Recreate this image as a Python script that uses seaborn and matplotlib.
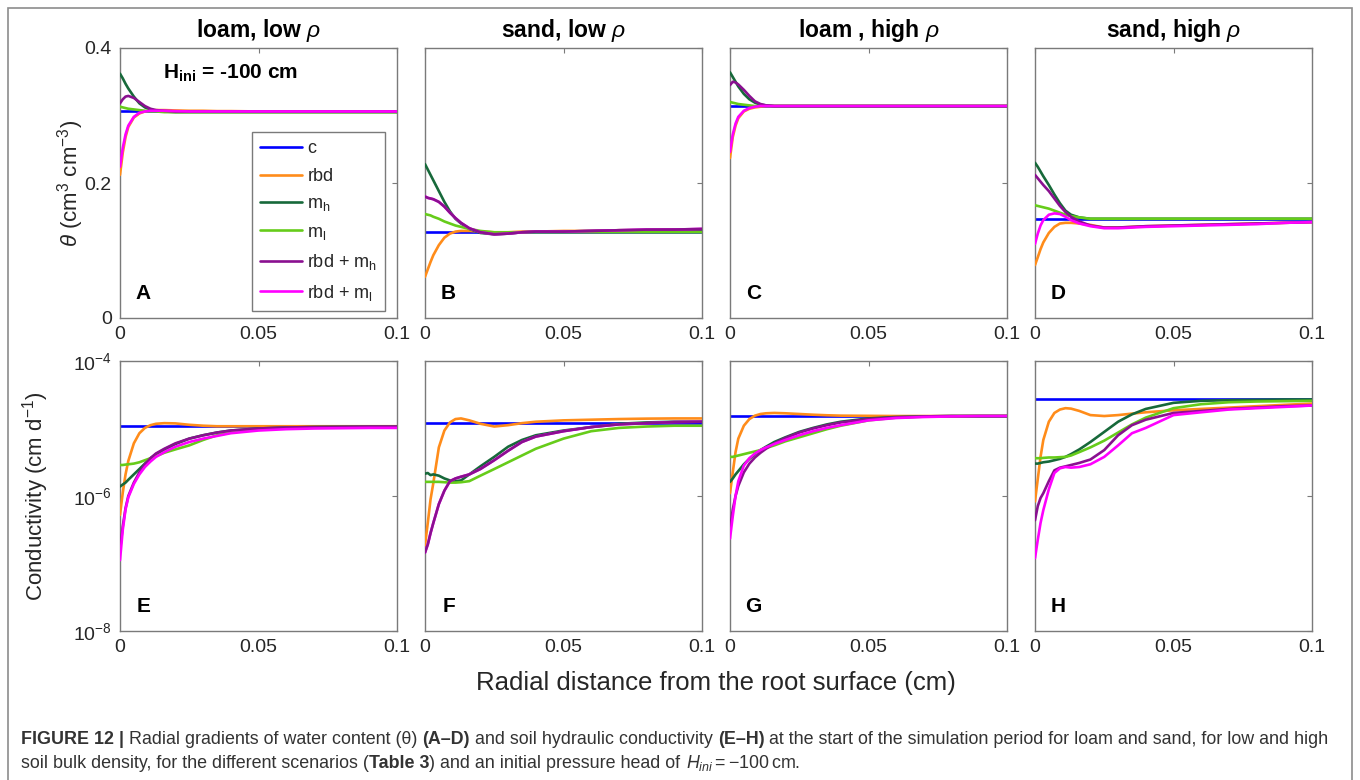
import matplotlib
matplotlib.use("Agg")
import matplotlib.pyplot as plt
import seaborn as sns
from matplotlib.patches import Rectangle
from matplotlib.lines import Line2D
from matplotlib.ticker import NullLocator

sns.set_style("white")
plt.rcParams['font.family'] = ['Liberation Sans', 'DejaVu Sans']
plt.rcParams['mathtext.fontset'] = 'custom'
plt.rcParams['mathtext.rm'] = 'Liberation Sans'
plt.rcParams['mathtext.it'] = 'Liberation Sans:italic'
plt.rcParams['mathtext.bf'] = 'Liberation Sans:bold'

# ---------------- data ----------------
X_R = [0.0, 0.001, 0.002, 0.003, 0.005, 0.007, 0.009, 0.011, 0.013, 0.016, 0.02,
       0.025, 0.03, 0.035, 0.04, 0.05, 0.06, 0.07, 0.08, 0.09, 0.1]
X_FLAT = [0.0, 0.1]

SERIES = ["c", "rbd", "m$_{\\rm h}$", "m$_{\\rm l}$", "rbd + m$_{\\rm h}$", "rbd + m$_{\\rm l}$"]
COLORS = ["#0000ff", "#ff8c1a", "#17693a", "#66cc1a", "#8a1090", "#ff00ff"]

TITLES = ["loam, low $\\rho$", "sand, low $\\rho$", "loam , high $\\rho$", "sand, high $\\rho$"]
LETTERS_TOP = ["A", "B", "C", "D"]
LETTERS_BOT = ["E", "F", "G", "H"]
X_TICKS = [0, 0.05, 0.1]
X_TICKLABELS = ["0", "0.05", "0.1"]
THETA_TICKS = [0, 0.2, 0.4]
THETA_TICKLABELS = ["0", "0.2", "0.4"]
K_TICKS = [1e-8, 1e-6, 1e-4]
K_TICKLABELS = ["10$^{-8}$", "10$^{-6}$", "10$^{-4}$"]

# water content (cm3 cm-3)
A_c = [0.307, 0.307]
A_rbd = [0.212, 0.245, 0.268, 0.283, 0.297, 0.303, 0.306, 0.3075, 0.308, 0.308, 0.3075,
         0.307, 0.307, 0.3065, 0.3065, 0.306, 0.306, 0.306, 0.306, 0.306, 0.306]
A_mh = [0.362, 0.355, 0.347, 0.340, 0.328, 0.318, 0.312, 0.309, 0.307, 0.306, 0.305,
        0.305, 0.305, 0.305, 0.305, 0.305, 0.305, 0.305, 0.305, 0.305, 0.305]
A_ml = [0.313, 0.312, 0.311, 0.310, 0.309, 0.308, 0.307, 0.306, 0.306, 0.305, 0.305,
        0.305, 0.305, 0.305, 0.305, 0.305, 0.305, 0.305, 0.305, 0.305, 0.305]
A_rbd_mh = [0.318, 0.324, 0.328, 0.329, 0.326, 0.320, 0.314, 0.310, 0.308, 0.307, 0.306,
            0.306, 0.306, 0.306, 0.306, 0.306, 0.306, 0.306, 0.306, 0.306, 0.306]
A_rbd_ml = [0.224, 0.252, 0.272, 0.285, 0.298, 0.304, 0.306, 0.307, 0.307, 0.307, 0.3065,
            0.306, 0.306, 0.306, 0.306, 0.306, 0.306, 0.306, 0.306, 0.306, 0.306]

B_c = [0.128, 0.128]
B_rbd = [0.061, 0.072, 0.083, 0.093, 0.108, 0.119, 0.125, 0.128, 0.129, 0.129, 0.128,
         0.127, 0.127, 0.128, 0.128, 0.129, 0.129, 0.130, 0.130, 0.131, 0.131]
B_mh = [0.228, 0.220, 0.212, 0.204, 0.188, 0.172, 0.158, 0.147, 0.140, 0.132, 0.126,
        0.124, 0.125, 0.127, 0.128, 0.128, 0.129, 0.130, 0.130, 0.131, 0.131]
B_ml = [0.154, 0.153, 0.152, 0.150, 0.147, 0.143, 0.140, 0.137, 0.135, 0.132, 0.129,
        0.127, 0.127, 0.127, 0.127, 0.127, 0.127, 0.127, 0.127, 0.127, 0.127]
B_rbd_mh = [0.180, 0.178, 0.177, 0.176, 0.172, 0.165, 0.156, 0.148, 0.141, 0.133, 0.127,
            0.124, 0.125, 0.127, 0.128, 0.128, 0.129, 0.130, 0.131, 0.131, 0.132]
B_rbd_ml = [0.180, 0.178, 0.177, 0.176, 0.172, 0.165, 0.156, 0.148, 0.141, 0.133, 0.127,
            0.124, 0.125, 0.127, 0.128, 0.128, 0.129, 0.130, 0.131, 0.131, 0.132]

C_c = [0.314, 0.314]
C_rbd = [0.237, 0.268, 0.285, 0.296, 0.306, 0.310, 0.312, 0.313, 0.314, 0.314, 0.314,
         0.314, 0.314, 0.314, 0.314, 0.314, 0.314, 0.314, 0.314, 0.314, 0.314]
C_mh = [0.364, 0.357, 0.350, 0.343, 0.332, 0.324, 0.319, 0.316, 0.315, 0.314, 0.314,
        0.314, 0.314, 0.314, 0.314, 0.314, 0.314, 0.314, 0.314, 0.314, 0.314]
C_ml = [0.320, 0.319, 0.318, 0.317, 0.316, 0.315, 0.314, 0.314, 0.314, 0.314, 0.314,
        0.314, 0.314, 0.314, 0.314, 0.314, 0.314, 0.314, 0.314, 0.314, 0.314]
C_rbd_mh = [0.345, 0.350, 0.349, 0.346, 0.338, 0.329, 0.321, 0.317, 0.315, 0.314, 0.314,
            0.314, 0.314, 0.314, 0.314, 0.314, 0.314, 0.314, 0.314, 0.314, 0.314]
C_rbd_ml = [0.246, 0.272, 0.288, 0.298, 0.307, 0.311, 0.313, 0.314, 0.314, 0.314, 0.314,
            0.314, 0.314, 0.314, 0.314, 0.314, 0.314, 0.314, 0.314, 0.314, 0.314]

D_c = [0.147, 0.147]
D_rbd = [0.0785, 0.090, 0.102, 0.112, 0.126, 0.135, 0.140, 0.141, 0.141, 0.140, 0.138,
         0.134, 0.134, 0.135, 0.136, 0.137, 0.138, 0.139, 0.140, 0.141, 0.142]
D_mh = [0.230, 0.224, 0.217, 0.210, 0.197, 0.183, 0.170, 0.159, 0.153, 0.149, 0.147,
        0.147, 0.147, 0.147, 0.147, 0.147, 0.147, 0.147, 0.147, 0.147, 0.147]
D_ml = [0.167, 0.166, 0.165, 0.164, 0.162, 0.159, 0.156, 0.153, 0.151, 0.149, 0.147,
        0.147, 0.147, 0.147, 0.147, 0.147, 0.147, 0.147, 0.147, 0.147, 0.147]
D_rbd_mh = [0.212, 0.207, 0.202, 0.197, 0.188, 0.177, 0.166, 0.157, 0.150, 0.143, 0.137,
            0.134, 0.134, 0.135, 0.136, 0.137, 0.138, 0.139, 0.140, 0.141, 0.142]
D_rbd_ml = [0.1096, 0.125, 0.137, 0.145, 0.153, 0.155, 0.154, 0.150, 0.145, 0.140, 0.136,
            0.133, 0.133, 0.134, 0.135, 0.136, 0.137, 0.138, 0.139, 0.141, 0.142]

# hydraulic conductivity (cm d-1)
E_c = [1.08e-5, 1.08e-5]
E_rbd = [5.25e-7, 1.12e-6, 2.09e-6, 3.31e-6, 6.03e-6, 8.51e-6, 1.02e-5, 1.12e-5, 1.175e-5, 1.20e-5, 1.19e-5,
         1.135e-5, 1.10e-5, 1.08e-5, 1.08e-5, 1.08e-5, 1.08e-5, 1.08e-5, 1.08e-5, 1.08e-5, 1.08e-5]
E_mh = [1.38e-6, 1.48e-6, 1.58e-6, 1.74e-6, 2.09e-6, 2.51e-6, 3.02e-6, 3.63e-6, 4.17e-6, 4.90e-6, 5.89e-6,
        7.08e-6, 7.94e-6, 8.71e-6, 9.33e-6, 1.0e-5, 1.035e-5, 1.05e-5, 1.06e-5, 1.07e-5, 1.07e-5]
E_ml = [2.88e-6, 2.88e-6, 2.92e-6, 2.95e-6, 3.02e-6, 3.16e-6, 3.39e-6, 3.63e-6, 3.89e-6, 4.37e-6, 4.90e-6,
        5.62e-6, 6.76e-6, 7.94e-6, 8.71e-6, 9.77e-6, 1.02e-5, 1.05e-5, 1.06e-5, 1.07e-5, 1.07e-5]
E_rbd_mh = [1.58e-7, 3.55e-7, 6.61e-7, 1.0e-6, 1.58e-6, 2.24e-6, 2.95e-6, 3.63e-6, 4.27e-6, 5.01e-6, 6.03e-6,
            7.08e-6, 7.94e-6, 8.71e-6, 9.33e-6, 1.0e-5, 1.035e-5, 1.05e-5, 1.06e-5, 1.07e-5, 1.07e-5]
E_rbd_ml = [1.12e-7, 3.16e-7, 6.31e-7, 9.55e-7, 1.51e-6, 2.09e-6, 2.69e-6, 3.24e-6, 3.80e-6, 4.47e-6, 5.37e-6,
            6.31e-6, 7.08e-6, 7.76e-6, 8.51e-6, 9.33e-6, 9.77e-6, 1.0e-5, 1.01e-5, 1.02e-5, 1.02e-5]

F_c = [1.22e-5, 1.22e-5]
F_rbd = [1.86e-7, 3.98e-7, 8.91e-7, 1.55e-6, 5.25e-6, 9.33e-6, 1.23e-5, 1.38e-5, 1.41e-5, 1.32e-5, 1.175e-5,
         1.07e-5, 1.12e-5, 1.20e-5, 1.26e-5, 1.32e-5, 1.35e-5, 1.38e-5, 1.40e-5, 1.41e-5, 1.41e-5]
F_mh = [2.14e-6, 2.19e-6, 2.04e-6, 2.09e-6, 2.0e-6, 1.82e-6, 1.70e-6, 1.66e-6, 1.70e-6, 2.09e-6, 2.75e-6,
        3.80e-6, 5.37e-6, 6.76e-6, 7.94e-6, 9.33e-6, 1.05e-5, 1.175e-5, 1.23e-5, 1.26e-5, 1.26e-5]
F_ml = [1.62e-6, 1.62e-6, 1.62e-6, 1.62e-6, 1.62e-6, 1.60e-6, 1.58e-6, 1.58e-6, 1.60e-6, 1.66e-6, 2.0e-6,
        2.51e-6, 3.16e-6, 3.98e-6, 5.01e-6, 7.08e-6, 9.12e-6, 1.02e-5, 1.07e-5, 1.10e-5, 1.10e-5]
F_rbd_mh = [1.45e-7, 1.91e-7, 2.82e-7, 3.98e-7, 7.59e-7, 1.20e-6, 1.66e-6, 1.82e-6, 1.93e-6, 2.09e-6, 2.51e-6,
            3.39e-6, 4.68e-6, 6.31e-6, 7.59e-6, 9.12e-6, 1.05e-5, 1.15e-5, 1.20e-5, 1.245e-5, 1.26e-5]
F_rbd_ml = [1.45e-7, 1.91e-7, 2.82e-7, 3.98e-7, 7.59e-7, 1.20e-6, 1.66e-6, 1.82e-6, 1.93e-6, 2.09e-6, 2.51e-6,
            3.39e-6, 4.68e-6, 6.31e-6, 7.59e-6, 9.12e-6, 1.05e-5, 1.15e-5, 1.20e-5, 1.245e-5, 1.26e-5]

G_c = [1.53e-5, 1.53e-5]
G_rbd = [1.10e-6, 2.24e-6, 4.47e-6, 7.08e-6, 1.10e-5, 1.38e-5, 1.55e-5, 1.64e-5, 1.68e-5, 1.70e-5, 1.68e-5,
         1.64e-5, 1.60e-5, 1.57e-5, 1.55e-5, 1.54e-5, 1.53e-5, 1.53e-5, 1.53e-5, 1.53e-5, 1.53e-5]
G_mh = [1.62e-6, 1.82e-6, 2.09e-6, 2.34e-6, 2.95e-6, 3.55e-6, 4.17e-6, 4.79e-6, 5.37e-6, 6.31e-6, 7.41e-6,
        8.91e-6, 1.02e-5, 1.15e-5, 1.26e-5, 1.41e-5, 1.48e-5, 1.51e-5, 1.53e-5, 1.53e-5, 1.53e-5]
G_ml = [3.80e-6, 3.80e-6, 3.89e-6, 3.98e-6, 4.17e-6, 4.37e-6, 4.57e-6, 4.79e-6, 5.13e-6, 5.62e-6, 6.46e-6,
        7.41e-6, 8.51e-6, 9.77e-6, 1.10e-5, 1.32e-5, 1.45e-5, 1.50e-5, 1.51e-5, 1.53e-5, 1.53e-5]
G_rbd_mh = [3.16e-7, 6.31e-7, 1.0e-6, 1.41e-6, 2.24e-6, 3.02e-6, 3.72e-6, 4.37e-6, 5.01e-6, 6.03e-6, 7.24e-6,
            8.71e-6, 1.0e-5, 1.12e-5, 1.23e-5, 1.38e-5, 1.46e-5, 1.51e-5, 1.53e-5, 1.53e-5, 1.53e-5]
G_rbd_ml = [2.34e-7, 5.01e-7, 1.0e-6, 1.66e-6, 2.82e-6, 3.63e-6, 4.27e-6, 4.79e-6, 5.25e-6, 5.89e-6, 6.76e-6,
            7.94e-6, 9.12e-6, 1.02e-5, 1.12e-5, 1.32e-5, 1.43e-5, 1.48e-5, 1.51e-5, 1.53e-5, 1.53e-5]

H_c = [2.70e-5, 2.70e-5]
H_rbd = [8.32e-7, 1.78e-6, 3.80e-6, 6.76e-6, 1.26e-5, 1.70e-5, 1.91e-5, 2.0e-5, 1.97e-5, 1.82e-5, 1.58e-5,
         1.53e-5, 1.58e-5, 1.66e-5, 1.74e-5, 1.86e-5, 1.95e-5, 2.04e-5, 2.14e-5, 2.24e-5, 2.34e-5]
H_mh = [3.02e-6, 3.02e-6, 3.09e-6, 3.16e-6, 3.24e-6, 3.39e-6, 3.55e-6, 3.80e-6, 4.17e-6, 4.90e-6, 6.31e-6,
        8.91e-6, 1.26e-5, 1.62e-5, 1.95e-5, 2.40e-5, 2.57e-5, 2.63e-5, 2.66e-5, 2.69e-5, 2.69e-5]
H_ml = [3.63e-6, 3.63e-6, 3.63e-6, 3.67e-6, 3.72e-6, 3.72e-6, 3.76e-6, 3.80e-6, 3.98e-6, 4.47e-6, 5.25e-6,
        6.61e-6, 8.71e-6, 1.15e-5, 1.45e-5, 2.0e-5, 2.29e-5, 2.45e-5, 2.51e-5, 2.54e-5, 2.57e-5]
H_rbd_mh = [4.37e-7, 7.08e-7, 9.33e-7, 1.10e-6, 1.66e-6, 2.40e-6, 2.63e-6, 2.75e-6, 2.88e-6, 3.09e-6, 3.47e-6,
            4.79e-6, 7.94e-6, 1.12e-5, 1.35e-5, 1.70e-5, 1.82e-5, 1.95e-5, 2.04e-5, 2.14e-5, 2.19e-5]
H_rbd_ml = [1.20e-7, 2.24e-7, 3.98e-7, 6.17e-7, 1.26e-6, 2.19e-6, 2.57e-6, 2.69e-6, 2.63e-6, 2.69e-6, 2.95e-6,
            3.80e-6, 5.62e-6, 8.51e-6, 1.02e-5, 1.58e-5, 1.74e-5, 1.91e-5, 2.0e-5, 2.09e-5, 2.19e-5]

TOP_DATA = [[A_c, A_rbd, A_mh, A_ml, A_rbd_mh, A_rbd_ml],
            [B_c, B_rbd, B_mh, B_ml, B_rbd_mh, B_rbd_ml],
            [C_c, C_rbd, C_mh, C_ml, C_rbd_mh, C_rbd_ml],
            [D_c, D_rbd, D_mh, D_ml, D_rbd_mh, D_rbd_ml]]
BOT_DATA = [[E_c, E_rbd, E_mh, E_ml, E_rbd_mh, E_rbd_ml],
            [F_c, F_rbd, F_mh, F_ml, F_rbd_mh, F_rbd_ml],
            [G_c, G_rbd, G_mh, G_ml, G_rbd_mh, G_rbd_ml],
            [H_c, H_rbd, H_mh, H_ml, H_rbd_mh, H_rbd_ml]]
# panels where rbd+m_h is drawn above rbd+m_l
PURPLE_ON_TOP = {"B", "F"}

# ---------------- figure ----------------
W, H = 1360, 780
fig = plt.figure(figsize=(W / 100, H / 100), dpi=100)
fig.patch.set_facecolor("white")

FRAME = "#7a7a7a"
TXT = "#262626"


def px_axes(left, top, w, h):
    return fig.add_axes([left / W, 1 - (top + h) / H, w / W, h / H])


def style_axes(ax):
    for s in ax.spines.values():
        s.set_color(FRAME)
        s.set_linewidth(1.0)
        s.set_visible(True)
    ax.tick_params(direction="in", top=True, right=True, length=3.5, width=0.8,
                   color=FRAME, labelsize=14, labelcolor=TXT, pad=6)
    ax.set_facecolor("white")
    ax.grid(False)


def draw_panel(ax, data, letter):
    for i, ys in enumerate(data):
        xs = X_FLAT if i == 0 else X_R
        z = 2 + i
        if letter in PURPLE_ON_TOP and i == 4:
            z = 10
        sns.lineplot(x=xs, y=ys, ax=ax, color=COLORS[i], linewidth=1.9,
                     estimator=None, sort=False, legend=False, zorder=z)
    ax.text(0.085, 0.09, letter, transform=ax.transAxes, fontsize=15,
            fontweight="bold", ha="center", va="center", color="black")


lefts = [120, 425, 730, 1035]
AW, AH = 277, 270
top_axes, bot_axes = [], []
for j in range(4):
    ax = px_axes(lefts[j], 48, AW, AH)
    style_axes(ax)
    draw_panel(ax, TOP_DATA[j], LETTERS_TOP[j])
    ax.set_xlim(0, 0.1)
    ax.set_ylim(0, 0.4)
    ax.set_xticks(X_TICKS)
    ax.set_xticklabels(X_TICKLABELS)
    ax.set_yticks(THETA_TICKS)
    ax.set_yticklabels(THETA_TICKLABELS if j == 0 else [])
    ax.set_xlabel("")
    ax.set_ylabel("")
    ax.set_title(TITLES[j], fontsize=16.5, fontweight="bold", color="black", pad=8)
    top_axes.append(ax)

    axb = px_axes(lefts[j], 361, AW, AH)
    style_axes(axb)
    axb.set_yscale("log")
    draw_panel(axb, BOT_DATA[j], LETTERS_BOT[j])
    axb.set_xlim(0, 0.1)
    axb.set_ylim(1e-8, 1e-4)
    axb.set_xticks(X_TICKS)
    axb.set_xticklabels(X_TICKLABELS)
    axb.set_yticks(K_TICKS)
    axb.set_yticklabels(K_TICKLABELS if j == 0 else [])
    axb.yaxis.set_minor_locator(NullLocator())
    axb.set_xlabel("")
    axb.set_ylabel("")
    bot_axes.append(axb)

# H_ini annotation
top_axes[0].text(0.40, 0.905, "$\\mathbf{H_{ini}}$ = -100 cm", transform=top_axes[0].transAxes,
                 fontsize=15, fontweight="bold", ha="center", va="center", color="black")

# legend
handles = [Line2D([0], [0], color=c, lw=1.9) for c in COLORS]
leg = top_axes[0].legend(handles, SERIES, loc="upper right", bbox_to_anchor=(0.958, 0.688),
                         fontsize=13, frameon=True, fancybox=False, framealpha=1,
                         edgecolor=FRAME, handlelength=2.3, handletextpad=0.3,
                         labelspacing=0.58, borderpad=0.45, borderaxespad=0)
leg.get_frame().set_linewidth(1.0)
for t in leg.get_texts():
    t.set_color(TXT)

# axis labels
fig.text(71 / W, 1 - 183 / H, "$\\theta$ (cm$^{3}$ cm$^{-3}$)", rotation=90,
         ha="center", va="center", fontsize=16, color=TXT)
fig.text(36 / W, 1 - 496 / H, "Conductivity (cm d$^{-1}$)", rotation=90,
         ha="center", va="center", fontsize=16, color=TXT)
fig.text(716 / W, 1 - 683 / H, "Radial distance from the root surface (cm)",
         ha="center", va="center", fontsize=18.5, color=TXT)

# outer frame
fig.patches.append(Rectangle((8 / W, -0.05), 1344 / W, 1 - 8 / H + 0.05,
                             transform=fig.transFigure, fill=False,
                             edgecolor="#8c8c8c", linewidth=1.2))

# caption
CAP1 = [("FIGURE 12 | ", "bold"), ("Radial gradients of water content (\u03b8) ", "normal"),
        ("(A\u2013D)", "bold"), (" and soil hydraulic conductivity ", "normal"),
        ("(E\u2013H)", "bold"),
        (" at the start of the simulation period for loam and sand, for low and high", "normal")]
CAP2 = [("soil bulk density, for the different scenarios (", "normal"), ("Table 3", "bold"),
        (") and an initial pressure head of ", "normal"), ("$H_{ini} = -100\\,$cm.", "normal")]

renderer = fig.canvas.get_renderer()


def run_width(s, weight, size):
    t1 = fig.text(0, 0, "|" + s + "|", fontsize=size, fontweight=weight)
    t2 = fig.text(0, 0, "||", fontsize=size, fontweight=weight)
    w = t1.get_window_extent(renderer).width - t2.get_window_extent(renderer).width
    t1.remove()
    t2.remove()
    return w


def draw_runs(runs, x0, ybase, size):
    x = x0
    for s, wgt in runs:
        fig.text(x / W, 1 - ybase / H, s, fontsize=size, fontweight=wgt,
                 ha="left", va="baseline", color="#333333")
        x += run_width(s, wgt, size)


base = 13.0
w1 = sum(run_width(s, wg, base) for s, wg in CAP1)
cap_size = base * (1328 - 21) / w1
draw_runs(CAP1, 21, 744, cap_size)
draw_runs(CAP2, 21, 768, cap_size)

fig.savefig("out.png", dpi=100, facecolor="white")
